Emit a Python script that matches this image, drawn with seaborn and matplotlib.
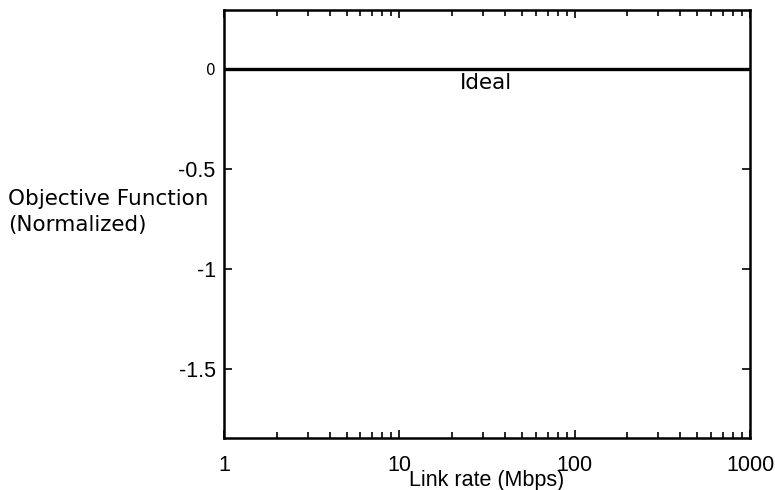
import matplotlib
matplotlib.use("Agg")
import matplotlib.pyplot as plt
import seaborn as sns
import pandas as pd

# Ideal reference line
link_rate = [1, 1000]
objective = [0, 0]
y_ticks = [0, -0.5, -1, -1.5]
y_tick_labels = ["0", "-0.5", "-1", "-1.5"]
x_ticks = [1, 10, 100, 1000]
x_tick_labels = ["1", "10", "100", "1000"]

sns.set_style("white")
plt.rcParams['font.family'] = ['DejaVu Sans']
plt.rcParams['text.color'] = 'black'

df = pd.DataFrame({"rate": link_rate, "obj": objective})

fig = plt.figure(figsize=(7.75, 4.9), dpi=100)
ax = fig.add_axes([224 / 775, 1 - 438 / 490, (750 - 224) / 775, (438 - 10) / 490])

sns.lineplot(data=df, x="rate", y="obj", ax=ax, color="black", linewidth=2.4)

ax.set_xscale("log")
ax.set_xlim(1, 1000)
ax.set_ylim(-1.845, 0.295)

tick_font = dict(family="Liberation Sans", size=15.5, color="black")
ax.set_xticks(x_ticks)
ax.set_xticklabels(x_tick_labels, fontdict=tick_font)
ax.set_yticks(y_ticks)
ax.set_yticklabels(y_tick_labels, fontdict=tick_font)
zero = ax.get_yticklabels()[0]
zero.set_fontfamily("DejaVu Sans")
zero.set_fontsize(11)

ax.tick_params(which="both", direction="in", left=True, bottom=True,
               top=True, right=True, width=1.2, color="black")
ax.tick_params(axis="x", pad=12)
ax.tick_params(axis="y", pad=6)
ax.tick_params(which="major", length=6)
ax.tick_params(which="minor", length=4)

for s in ax.spines.values():
    s.set_linewidth(1.8)
    s.set_color("black")

ax.set_xlabel("Link rate (Mbps)", family="Liberation Sans", fontsize=15.5,
              color="black", labelpad=-4)
ax.set_ylabel("")
fig.text(8 / 775, 1 - 212 / 490, "Objective Function\n(Normalized)",
         fontsize=15.5, ha="left", va="center", linespacing=1.4)

ax.text(31, -0.07, "Ideal", fontsize=15.5, ha="center", va="center")

fig.savefig("out.png", dpi=100)
